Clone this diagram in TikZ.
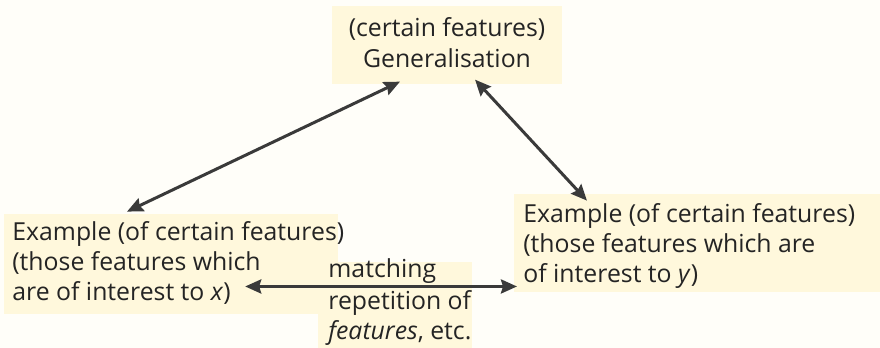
\documentclass[tikz,border=0pt]{standalone}
\usepackage{fontspec}
\setmainfont{Open Sans}
\usetikzlibrary{arrows.meta,calc}

\definecolor{ink}{HTML}{242424}
\definecolor{paper}{HTML}{FFFEF9}
\definecolor{wash}{HTML}{FFF8DC}

\tikzset{
  line/.style={anchor=base west, inner sep=0pt, text=ink,
    font=\fontsize{12.4}{14}\selectfont},
  link/.style={draw=ink!90, line width=1.5pt,
    {Stealth[length=8pt,width=7pt,inset=1pt]}-{Stealth[length=8pt,width=7pt,inset=1pt]}}
}

\begin{document}
\begin{tikzpicture}[x=0.5pt, y=-0.5pt]
\useasboundingbox (0,0) rectangle (880,348);
% paper, yellowed where the text sits
\fill[paper] (0,0) rectangle (880,348);
\fill[wash] (332,6) rectangle (562,84);
\fill[wash] (4,214) rectangle (338,314);
\fill[wash] (514,194) rectangle (880,292);
\fill[wash] (318,262) rectangle (472,348);

% generalisation
\node[line, anchor=base] (feat) at (447,37) {(certain features)};
\node[line, anchor=base] (gen) at (447,68) {Generalisation};

% example seen by x
\node[line] (exx1) at (12,240) {Example (of certain features)};
\node[line] (exx2) at (12,270) {(those features which};
\node[line] (exx3) at (12,300) {are of interest to \textit{x})};

% example seen by y
\node[line] (exy1) at (523,222) {Example (of certain features)};
\node[line] (exy2) at (523,252) {(those features which are};
\node[line] (exy3) at (523,282) {of interest to \textit{y})};

% between the two examples
\node[line] (mat1) at (328,277) {matching};
\node[line] (mat2) at (328,309) {repetition of};
\node[line] (mat3) at (328,339) {\textit{features}, etc.};

\draw[link] ($(gen.south)+(-47,13)$) -- ($(exx1.north west)+(115,-9)$);
\draw[link] ($(gen.south)+(28,11)$) -- ($(exy1.north west)+(64,-2)$);
\draw[link, shorten >=3pt] ($(exx3.east)+(14,-6)$) coordinate (mx) -- (mx -| exy3.west);
\end{tikzpicture}
\end{document}
